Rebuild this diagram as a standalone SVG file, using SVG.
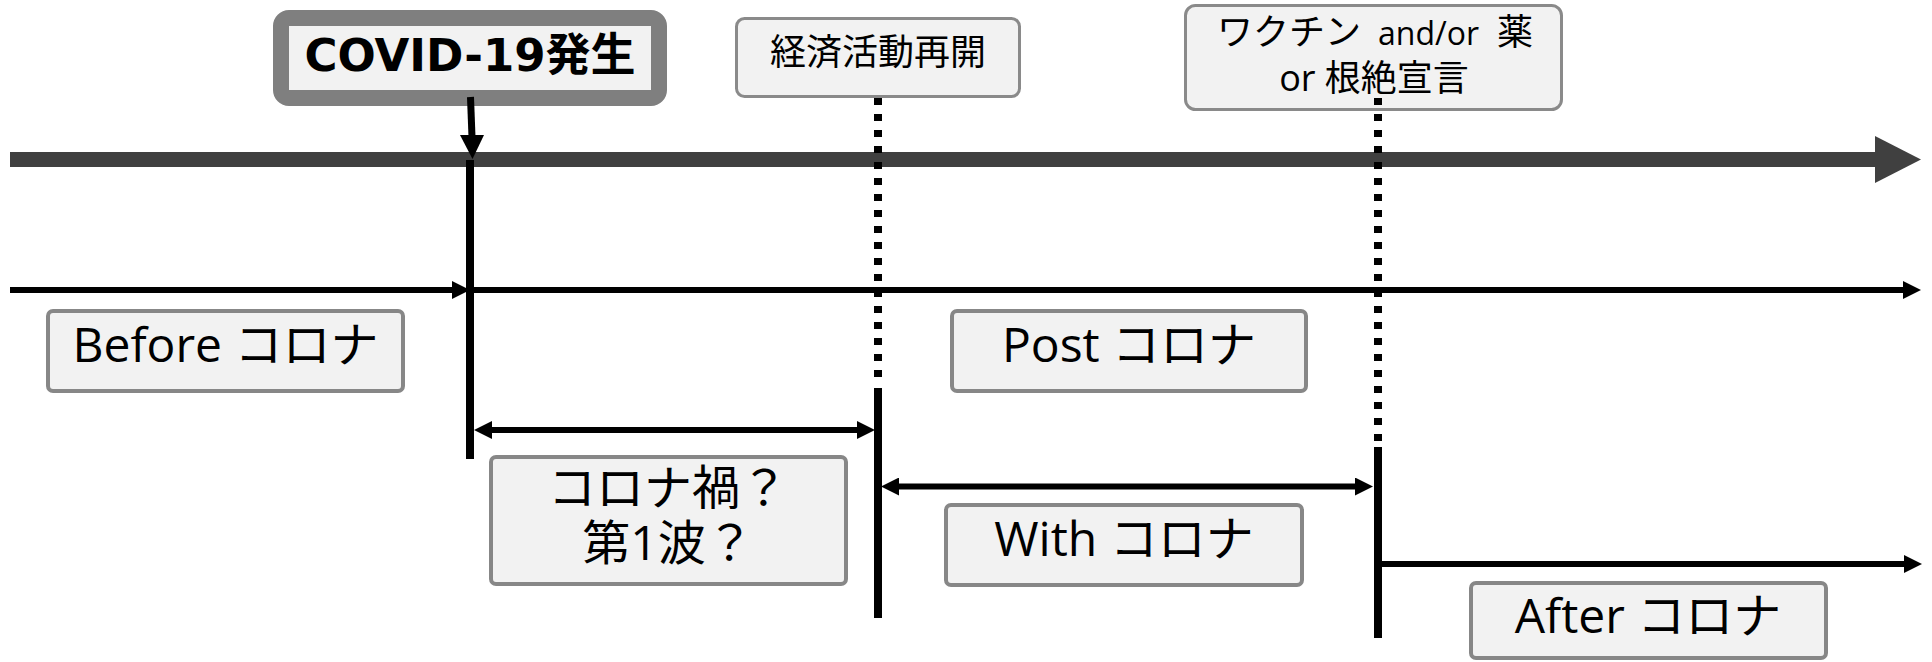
<svg xmlns="http://www.w3.org/2000/svg" width="1932" height="662" viewBox="0 0 1932 662">
<style>
.box{fill:#f2f2f2;stroke:#878787;stroke-width:4}
.tbox{fill:#f2f2f2;stroke:#8a8a8a;stroke-width:3}
.t{font-family:"Open Sans","Noto Sans CJK JP",sans-serif;fill:#000;text-anchor:middle}
.big{font-size:48px}
.sm{font-size:36px}
.ln{stroke:#000;stroke-width:6;fill:none}
.vl{stroke:#000;stroke-width:8;fill:none}
.dot{stroke:#000;stroke-width:8;fill:none;stroke-dasharray:7 9}
</style>
<defs>
<marker id="ah" markerUnits="userSpaceOnUse" markerWidth="18" markerHeight="18" viewBox="0 0 18 18" refX="8" refY="9" orient="auto-start-reverse">
<path d="M0,0 L18,9 L0,18 z" fill="#000"/>
</marker>
</defs>
<rect width="1932" height="662" fill="#fff"/>

<g id="timeline">
<rect x="10" y="152" width="1866" height="15" fill="#404040"/>
<polygon points="1875,136 1921,159.5 1875,183" fill="#404040"/>
</g>

<g id="covid">
<rect x="281" y="18" width="378" height="80" rx="8" fill="#f2f2f2" stroke="#7f7f7f" stroke-width="16"/>
<text x="470" y="71" style="font-family:'DejaVu Sans','Noto Sans CJK JP',sans-serif;font-weight:bold;font-size:45px;text-anchor:middle">COVID-19発生</text>
</g>

<g id="keizai">
<rect class="tbox" x="736.5" y="18.5" width="283" height="78" rx="8"/>
<text class="t sm" x="878" y="65">経済活動再開</text>
</g>

<g id="vaccine">
<rect class="tbox" x="1185.5" y="5.5" width="376" height="104" rx="10"/>
<text class="t" style="text-anchor:start" y="45"><tspan x="1217" font-size="36">ワクチン</tspan><tspan x="1378" font-size="32">and/or</tspan><tspan x="1497" font-size="36">薬</tspan></text>
<text class="t sm" x="1374" y="90.5">or 根絶宣言</text>
</g>

<g id="before">
<rect class="box" x="48" y="311" width="355" height="80" rx="5"/>
<text class="t big" x="225.5" y="362">Before コロナ</text>
</g>

<g id="post">
<rect class="box" x="952" y="311" width="354" height="80" rx="5"/>
<text class="t big" x="1129" y="362">Post コロナ</text>
</g>

<g id="coronaka">
<rect class="box" x="491" y="457" width="355" height="127" rx="5"/>
<text class="t big"><tspan x="668" y="505">コロナ禍？</tspan><tspan x="668" y="560">第1波？</tspan></text>
</g>

<g id="with">
<rect class="box" x="946" y="505" width="356" height="80" rx="5"/>
<text class="t big" x="1124" y="556">With コロナ</text>
</g>

<g id="after">
<rect class="box" x="1471" y="583" width="355" height="75" rx="5"/>
<text class="t big" x="1648" y="633">After コロナ</text>
</g>

<g id="connectors">
<line x1="470.5" y1="97" x2="472" y2="137" stroke="#000" stroke-width="7"/>
<polygon points="460,135 484,135 472.5,159" fill="#000"/>
<line class="vl" x1="470" y1="160" x2="470" y2="459"/>
<line class="dot" x1="878" y1="98" x2="878" y2="378"/>
<line class="vl" x1="878" y1="388" x2="878" y2="618"/>
<line class="dot" x1="1378" y1="98" x2="1378" y2="442"/>
<line class="vl" x1="1378" y1="447" x2="1378" y2="638"/>
<line class="ln" x1="10" y1="290" x2="460" y2="290" marker-end="url(#ah)"/>
<line class="ln" x1="470" y1="290" x2="1911" y2="290" marker-end="url(#ah)"/>
<line class="ln" x1="484" y1="430" x2="865" y2="430" marker-start="url(#ah)" marker-end="url(#ah)"/>
<line class="ln" x1="891" y1="486.5" x2="1363" y2="486.5" marker-start="url(#ah)" marker-end="url(#ah)"/>
<line class="ln" x1="1378" y1="564" x2="1912" y2="564" marker-end="url(#ah)"/>
</g>
</svg>
